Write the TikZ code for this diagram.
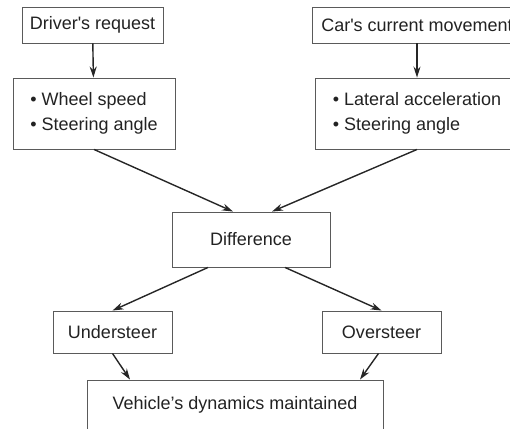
\documentclass[tikz,border=0pt]{standalone}
\usepackage{fontspec}
\setmainfont{Liberation Sans}
\usepackage{xcolor}
\usepackage{tikz}
\usetikzlibrary{shapes,arrows.meta}
\definecolor{boxgray}{HTML}{5A5A5A}
\definecolor{txtgray}{HTML}{222222}
\tikzset{blk/.style={rectangle,draw=boxgray,line width=0.9pt,text=txtgray,inner sep=0pt,
    font=\fontsize{18}{25}\selectfont,align=left}}
\tikzset{flow/.style={-{Stealth[length=11pt,width=7pt]},line width=1.4pt,color=black!85}}

\begin{document}
\begin{tikzpicture}[x=1pt,y=-1pt]
    \clip (0,0) rectangle (510,428);
    \node[blk,minimum width=141,minimum height=36] (req) at (92.5,25) {Driver\textquotesingle s request};
    \node[blk,minimum width=210,minimum height=36] (cur) at (417,25) {Car\textquotesingle s current movement};
    \node[blk,minimum width=162,minimum height=71] (whl) at (94,113.5) {\textbullet\ Wheel speed\\\textbullet\ Steering angle};
    \node[blk,minimum width=204,minimum height=71] (lat) at (417,113.5) {\textbullet\ Lateral acceleration\\\textbullet\ Steering angle};
    \node[blk,minimum width=158,minimum height=55] (diff) at (251,239.5) {Difference};
    \node[blk,minimum width=119,minimum height=42] (und) at (112.5,332) {Understeer};
    \node[blk,minimum width=119,minimum height=42] (ovr) at (381.5,332) {Oversteer};
    \node[blk,minimum width=296,minimum height=50] (veh) at (235,405) {Vehicle's dynamics maintained};

    \draw [flow] (req) to (whl);
    \draw [flow] (cur) to (lat);
    \draw [flow] (whl.south) to ([xshift=-18]diff.north);
    \draw [flow] (lat.south) to ([xshift=21]diff.north);
    \draw [flow] ([xshift=-43]diff.south) to (und.north);
    \draw [flow] ([xshift=34]diff.south) to (ovr.north);
    \draw [flow] (und.south) to ([xshift=-105]veh.north);
    \draw [flow] ([xshift=-3]ovr.south) to ([xshift=125]veh.north);
\end{tikzpicture}
\end{document}
